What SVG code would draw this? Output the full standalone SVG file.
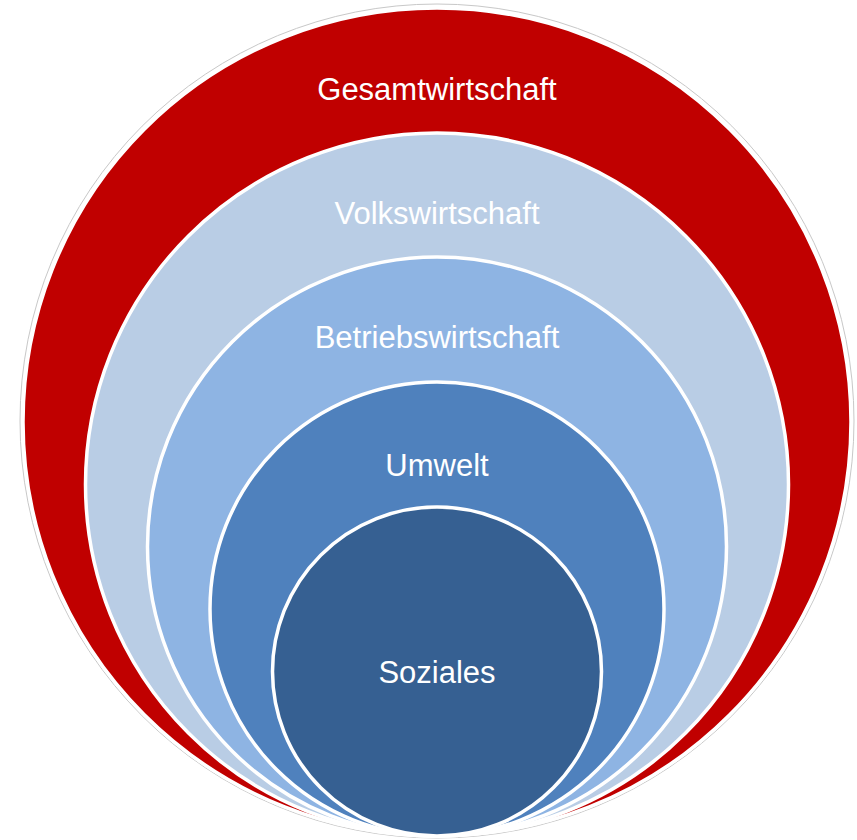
<svg xmlns="http://www.w3.org/2000/svg" width="857" height="840" viewBox="0 0 857 840">
<style>
.ring{stroke:#ffffff;stroke-width:3.5}
.lbl{font-family:"Liberation Sans",Arial,sans-serif;font-size:31px;fill:#ffffff;text-anchor:middle}
</style>
<rect width="857" height="840" fill="#ffffff"/>
<g id="gesamtwirtschaft">
<circle cx="437" cy="421" r="417" fill="none" stroke="#c8c8c8" stroke-width="1"/>
<circle class="ring" cx="437" cy="422" r="414" fill="#c00000"/>
<text class="lbl" x="437" y="100">Gesamtwirtschaft</text>
</g>
<g id="volkswirtschaft">
<circle class="ring" cx="437" cy="484.5" r="351.5" fill="#b9cde5"/>
<text class="lbl" x="437" y="224">Volkswirtschaft</text>
</g>
<g id="betriebswirtschaft">
<circle class="ring" cx="437" cy="546.5" r="289.5" fill="#8eb4e3"/>
<text class="lbl" x="437" y="348">Betriebswirtschaft</text>
</g>
<g id="umwelt">
<circle class="ring" cx="437" cy="609" r="227" fill="#4f81bd"/>
<text class="lbl" x="437" y="476">Umwelt</text>
</g>
<g id="soziales">
<circle class="ring" cx="437" cy="671.5" r="164.5" fill="#366092"/>
<text class="lbl" x="437" y="683">Soziales</text>
</g>
<g id="connectors"/>
</svg>
